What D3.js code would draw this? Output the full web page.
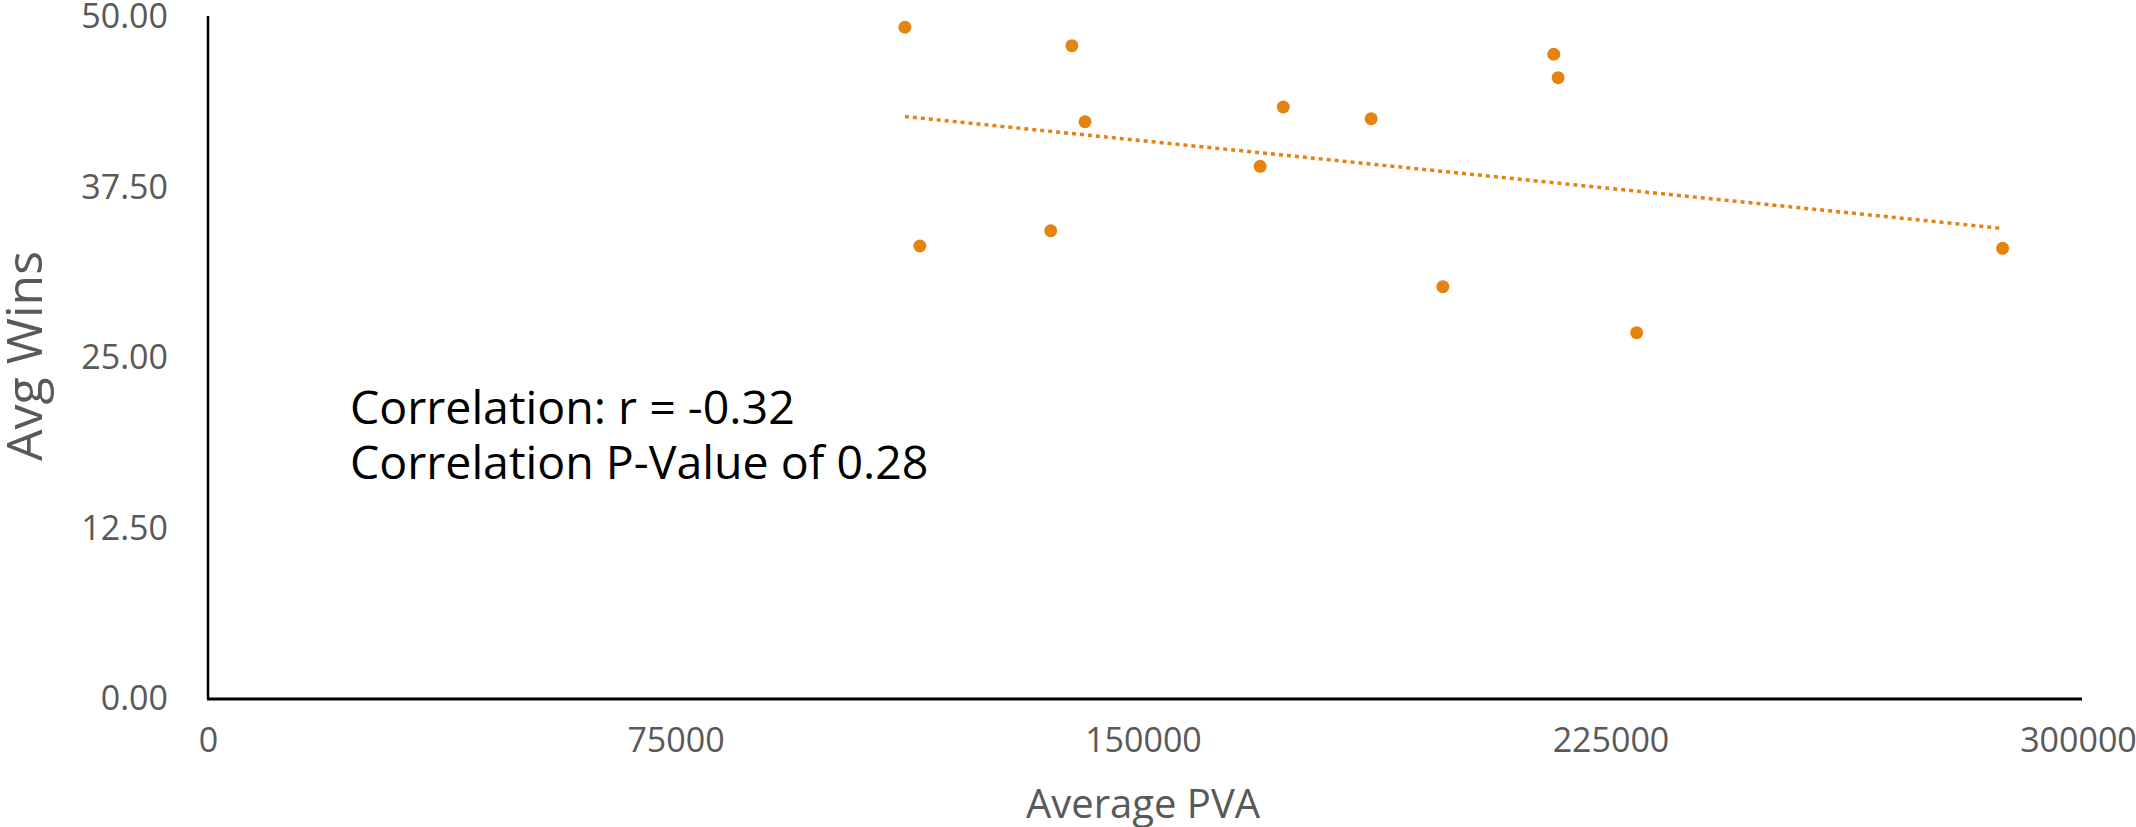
<!DOCTYPE html>
<html>
<head>
<meta charset="utf-8">
<script src="https://cdn.jsdelivr.net/npm/d3@7"></script>
<style>
  html, body { margin: 0; padding: 0; background: #ffffff; }
  svg { display: block; }
</style>
</head>
<body>
<script>
// ---- Data ----
const pva  = [111800, 138600, 215900, 216600, 172500, 186600, 140700, 168800, 135200, 114200, 287900, 198100, 229200];
const wins = [49.25, 47.90, 47.27, 45.55, 43.40, 42.54, 42.32, 39.05, 34.33, 33.21, 33.04, 30.23, 26.86];
const xTicks = [0, 75000, 150000, 225000, 300000];
const yTicks = [0, 12.5, 25, 37.5, 50];
const xTitle = "Average PVA";
const yTitle = "Avg Wins";
const notes = ["Correlation: r = -0.32", "Correlation P-Value of 0.28"];

const W = 2136, H = 827;
const orange = "#E5830F";
const gray = "#595959";
const font = "'Open Sans', 'DejaVu Sans', sans-serif";

const svg = d3.select("body").append("svg").attr("width", W).attr("height", H);
svg.append("rect").attr("width", W).attr("height", H).attr("fill", "#fff");

const x = d3.scaleLinear().domain([0, 300000]).range([208, 2078]);
const y = d3.scaleLinear().domain([0, 50]).range([699, 17]);

// axes
const yAxis = svg.append("g").attr("transform", `translate(${x(0)},0)`)
  .call(d3.axisLeft(y).tickValues(yTicks).tickFormat(d3.format(".2f")).tickSize(0).tickPadding(40));
yAxis.select(".domain").remove();
yAxis.selectAll("text").attr("font-family", font).attr("font-size", 34).attr("fill", gray);

const xAxis = svg.append("g").attr("transform", `translate(0,${y(0)})`)
  .call(d3.axisBottom(x).tickValues(xTicks).tickFormat(d3.format("d")).tickSize(0).tickPadding(29));
xAxis.select(".domain").remove();
xAxis.selectAll("text").attr("font-family", font).attr("font-size", 34).attr("fill", gray);

svg.append("line").attr("x1", x(0)).attr("x2", x(0)).attr("y1", y(50) - 1).attr("y2", y(0))
  .attr("stroke", "#000").attr("stroke-width", 2.5);
svg.append("line").attr("x1", x(0) - 1).attr("x2", x(300000) + 4).attr("y1", y(0)).attr("y2", y(0))
  .attr("stroke", "#000").attr("stroke-width", 3);

// linear trendline (least squares on the data)
const mx = d3.mean(pva), my = d3.mean(wins);
let sxy = 0, sxx = 0;
pva.forEach((v, i) => { sxy += (v - mx) * (wins[i] - my); sxx += (v - mx) * (v - mx); });
const slope = sxy / sxx, icpt = my - slope * mx;
const xExt = d3.extent(pva);
svg.append("line")
  .attr("x1", x(xExt[0])).attr("y1", y(icpt + slope * xExt[0]))
  .attr("x2", x(xExt[1])).attr("y2", y(icpt + slope * xExt[1]))
  .attr("stroke", orange).attr("stroke-width", 3.5).attr("stroke-dasharray", "4 4");

// points
svg.append("g").selectAll("circle").data(pva).join("circle")
  .attr("cx", d => x(d)).attr("cy", (d, i) => y(wins[i])).attr("r", 6.5).attr("fill", orange);

// titles
svg.append("text").attr("x", (x(0) + x(300000)) / 2).attr("y", 818)
  .attr("text-anchor", "middle").attr("font-family", font).attr("font-size", 40).attr("fill", gray)
  .text(xTitle);
svg.append("text").attr("transform", "translate(42,356) rotate(-90)")
  .attr("text-anchor", "middle").attr("font-family", font).attr("font-size", 50).attr("fill", gray)
  .text(yTitle);

// annotation
svg.append("g").selectAll("text").data(notes).join("text")
  .attr("x", 350).attr("y", (d, i) => 424 + i * 55)
  .attr("font-family", font).attr("font-size", 46.5).attr("fill", "#000")
  .text(d => d);
</script>
</body>
</html>
